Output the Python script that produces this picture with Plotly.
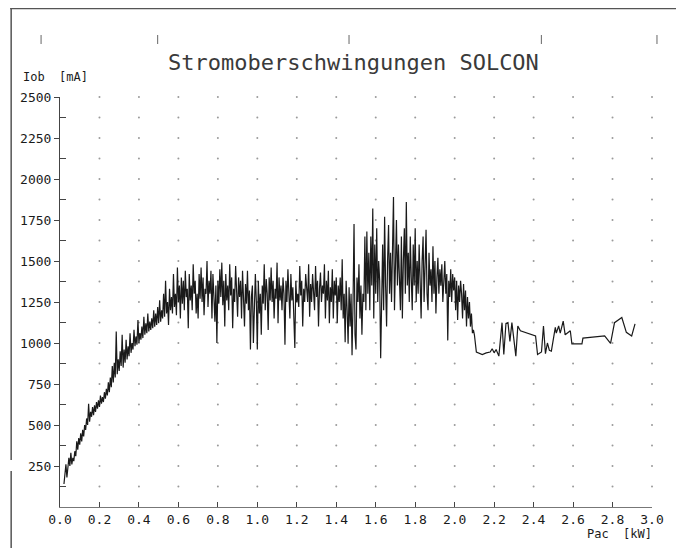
import plotly.graph_objects as go

# ---- data (Pac in kW, Iob in mA) ----
X_DENSE = [
    0.020, 0.025, 0.030, 0.035, 0.040, 0.045, 0.050, 0.055, 0.060, 0.065,
    0.070, 0.075, 0.080, 0.085, 0.090, 0.095, 0.100, 0.105, 0.110, 0.115,
    0.120, 0.125, 0.130, 0.135, 0.140, 0.145, 0.150, 0.155, 0.160, 0.165,
    0.170, 0.175, 0.180, 0.185, 0.190, 0.195, 0.200, 0.205, 0.210, 0.215,
    0.220, 0.225, 0.230, 0.235, 0.240, 0.245, 0.250, 0.255, 0.260, 0.265,
    0.270, 0.275, 0.280, 0.285, 0.290, 0.295, 0.300, 0.305, 0.310, 0.315,
    0.320, 0.325, 0.330, 0.335, 0.340, 0.345, 0.350, 0.355, 0.360, 0.365,
    0.370, 0.375, 0.380, 0.385, 0.390, 0.395, 0.400, 0.405, 0.410, 0.415,
    0.420, 0.425, 0.430, 0.435, 0.440, 0.445, 0.450, 0.455, 0.460, 0.465,
    0.470, 0.475, 0.480, 0.485, 0.490, 0.495, 0.500, 0.505, 0.510, 0.515,
    0.520, 0.525, 0.530, 0.535, 0.540, 0.545, 0.550, 0.555, 0.560, 0.565,
    0.570, 0.575, 0.580, 0.585, 0.590, 0.595, 0.600, 0.605, 0.610, 0.615,
    0.620, 0.625, 0.630, 0.635, 0.640, 0.645, 0.650, 0.655, 0.660, 0.665,
    0.670, 0.675, 0.680, 0.685, 0.690, 0.695, 0.700, 0.705, 0.710, 0.715,
    0.720, 0.725, 0.730, 0.735, 0.740, 0.745, 0.750, 0.755, 0.760, 0.765,
    0.770, 0.775, 0.780, 0.785, 0.790, 0.795, 0.800, 0.805, 0.810, 0.815,
    0.820, 0.825, 0.830, 0.835, 0.840, 0.845, 0.850, 0.855, 0.860, 0.865,
    0.870, 0.875, 0.880, 0.885, 0.890, 0.895, 0.900, 0.905, 0.910, 0.915,
    0.920, 0.925, 0.930, 0.935, 0.940, 0.945, 0.950, 0.955, 0.960, 0.965,
    0.970, 0.975, 0.980, 0.985, 0.990, 0.995, 1.000, 1.005, 1.010, 1.015,
    1.020, 1.025, 1.030, 1.035, 1.040, 1.045, 1.050, 1.055, 1.060, 1.065,
    1.070, 1.075, 1.080, 1.085, 1.090, 1.095, 1.100, 1.105, 1.110, 1.115,
    1.120, 1.125, 1.130, 1.135, 1.140, 1.145, 1.150, 1.155, 1.160, 1.165,
    1.170, 1.175, 1.180, 1.185, 1.190, 1.195, 1.200, 1.205, 1.210, 1.215,
    1.220, 1.225, 1.230, 1.235, 1.240, 1.245, 1.250, 1.255, 1.260, 1.265,
    1.270, 1.275, 1.280, 1.285, 1.290, 1.295, 1.300, 1.305, 1.310, 1.315,
    1.320, 1.325, 1.330, 1.335, 1.340, 1.345, 1.350, 1.355, 1.360, 1.365,
    1.370, 1.375, 1.380, 1.385, 1.390, 1.395, 1.400, 1.405, 1.410, 1.415,
    1.420, 1.425, 1.430, 1.435, 1.440, 1.445, 1.450, 1.455, 1.460, 1.465,
    1.470, 1.475, 1.480, 1.485, 1.490, 1.495, 1.500, 1.505, 1.510, 1.515,
    1.520, 1.525, 1.530, 1.535, 1.540, 1.545, 1.550, 1.555, 1.560, 1.565,
    1.570, 1.575, 1.580, 1.585, 1.590, 1.595, 1.600, 1.605, 1.610, 1.615,
    1.620, 1.625, 1.630, 1.635, 1.640, 1.645, 1.650, 1.655, 1.660, 1.665,
    1.670, 1.675, 1.680, 1.685, 1.690, 1.695, 1.700, 1.705, 1.710, 1.715,
    1.720, 1.725, 1.730, 1.735, 1.740, 1.745, 1.750, 1.755, 1.760, 1.765,
    1.770, 1.775, 1.780, 1.785, 1.790, 1.795, 1.800, 1.805, 1.810, 1.815,
    1.820, 1.825, 1.830, 1.835, 1.840, 1.845, 1.850, 1.855, 1.860, 1.865,
    1.870, 1.875, 1.880, 1.885, 1.890, 1.895, 1.900, 1.905, 1.910, 1.915,
    1.920, 1.925, 1.930, 1.935, 1.940, 1.945, 1.950, 1.955, 1.960, 1.965,
    1.970, 1.975, 1.980, 1.985, 1.990, 1.995, 2.000, 2.005, 2.010, 2.015,
    2.020, 2.025, 2.030, 2.035, 2.040, 2.045, 2.050, 2.055, 2.060, 2.065,
    2.070, 2.075, 2.080, 2.085, 2.090, 2.095, 2.100,
]
Y_DENSE = [
    140, 190, 260, 180, 230, 300, 250, 330, 260, 300,
    280, 340, 310, 400, 350, 420, 380, 450, 400, 470,
    430, 500, 470, 540, 500, 630, 520, 580, 550, 610,
    560, 620, 580, 640, 600, 650, 610, 680, 630, 670,
    640, 700, 660, 720, 680, 760, 700, 790, 730, 860,
    760, 880, 790, 1070, 810, 900, 830, 950, 860, 1050,
    850, 960, 880, 1020, 900, 980, 920, 1060, 940, 1000,
    960, 1080, 980, 1040, 990, 1140, 1000, 1060, 1020, 1100,
    1030, 1160, 1050, 1120, 1060, 1180, 1070, 1130, 1080, 1150,
    1090, 1200, 1100, 1180, 1110, 1220, 1120, 1260, 1130, 1200,
    1150, 1300, 1160, 1380, 1180, 1250, 1110, 1330, 1200, 1280,
    1180, 1420, 1220, 1300, 1170, 1460, 1250, 1350, 1150, 1400,
    1240, 1380, 1200, 1440, 1280, 1330, 1090, 1420, 1260, 1350,
    1200, 1480, 1300, 1380, 1180, 1300, 1150, 1420, 1270, 1460,
    1250, 1400, 1170, 1330, 1300, 1500, 1220, 1380, 1300, 1440,
    1150, 1420, 1280, 1130, 1350, 1000, 1380, 1240, 1450, 1280,
    1490, 1230, 1380, 1100, 1420, 1260, 1350, 1200, 1480, 1290,
    1400, 1090, 1330, 1250, 1470, 1300, 1160, 1400, 1280, 1380,
    1150, 1440, 1300, 1100, 1360, 1240, 1440, 1200, 1320, 960,
    1280, 1350, 1000, 1300, 1420, 1250, 960, 1380, 1180, 1300,
    1050, 1350, 1240, 1480, 1200, 1390, 1300, 1080, 1400, 1260,
    1460, 1250, 1380, 1150, 1330, 1270, 1490, 1120, 1400, 1260,
    1350, 1200, 1400, 1300, 990, 1380, 1250, 1450, 1300, 1150,
    1420, 1260, 1340, 1150, 970, 1380, 1250, 1300, 1220, 1470,
    1290, 1380, 1100, 1330, 1250, 1420, 1300, 1250, 1480, 1160,
    1360, 1250, 1420, 1300, 1200, 1470, 1280, 1380, 1100, 1330,
    1430, 1250, 1350, 1300, 1480, 1150, 1380, 1260, 1440, 1120,
    1340, 1250, 1450, 1150, 1380, 1290, 1400, 1120, 1350, 1250,
    1400, 1200, 1510, 1150, 1300, 1005, 1380, 1200, 995, 1340,
    1100, 1300, 925, 1250, 1726, 1050, 960, 1400, 1250, 1480,
    1150, 1350, 1050, 1300, 1250, 1650, 1200, 1680, 1300, 1550,
    1200, 1650, 1350, 1820, 1150, 1600, 1300, 1700, 1250, 1500,
    1380, 907, 1450, 1600, 1200, 1770, 1350, 1100, 1500, 1720,
    1300, 1550, 1250, 1650, 1890, 1200, 1500, 1750, 1350, 1600,
    1400, 1200, 1650, 1150, 1500, 1700, 1300, 1860, 1350, 1550,
    1250, 1650, 1400, 1200, 1600, 1350, 1700, 1250, 1500, 1300,
    1600, 1350, 1150, 1500, 1650, 1250, 1450, 1690, 1300, 1200,
    1550, 1350, 1450, 1250, 1590, 1300, 1500, 1180, 1400, 1520,
    1300, 1450, 1350, 1480, 1250, 1400, 1500, 1300, 1420, 1016,
    1380, 1280, 1450, 1250, 1420, 1320, 1400, 1200, 1380, 1140,
    1350, 1250, 1380, 1300, 1150, 1360, 1200, 1320, 1100, 1280,
    1150, 1250, 1100, 1180, 1060, 1080, 1050,
]
X_TAIL = [2.11, 2.14, 2.16, 2.18, 2.19, 2.20, 2.21, 2.224, 2.24, 2.249,
          2.26, 2.27, 2.28, 2.29, 2.31, 2.32, 2.333, 2.41, 2.42, 2.44,
          2.45, 2.46, 2.47, 2.48, 2.49, 2.51, 2.515, 2.527, 2.535, 2.55,
          2.56, 2.575, 2.586, 2.594, 2.645, 2.65, 2.76, 2.79, 2.81, 2.847,
          2.87, 2.897, 2.914]
Y_TAIL = [945, 930, 940, 945, 965, 940, 960, 920, 1124, 930,
          1120, 1124, 1010, 1124, 920, 1104, 1075, 1043, 930, 945,
          1104, 935, 1000, 955, 950, 1095, 1060, 1104, 1060, 1134,
          1050, 1065, 1075, 995, 995, 1030, 1043, 998, 1124, 1155,
          1065, 1043, 1117]

X_TICKS = [0.0, 0.2, 0.4, 0.6, 0.8, 1.0, 1.2, 1.4, 1.6, 1.8, 2.0, 2.2, 2.4, 2.6, 2.8, 3.0]
X_TICK_TEXT = ["0.0", "0.2", "0.4", "0.6", "0.8", "1.0", "1.2", "1.4", "1.6", "1.8",
               "2.0", "2.2", "2.4", "2.6", "2.8", "3.0"]
Y_TICKS = [250, 500, 750, 1000, 1250, 1500, 1750, 2000, 2250, 2500]
Y_TICK_TEXT = ["250", "500", "750", "1000", "1250", "1500", "1750", "2000", "2250", "2500"]
Y_MINOR = [125, 375, 625, 875, 1125, 1375, 1625, 1875, 2125, 2375]
DOT_COLS = X_TICKS[1:]
DOT_ROWS = sorted(Y_TICKS + Y_MINOR)

TITLE = "Stromoberschwingungen SOLCON"
Y_LABEL = "Iob\u00a0 [mA]"
X_LABEL = "Pac\u00a0 [kW]"

MONO = "DejaVu Sans Mono"
INK = "#1a1a1a"

# page is drawn with an 8px body margin; positions below are screen pixels
OFF = 8
W, H = 684 - OFF, 551 - OFF
PL, PR, PT, PB = 58, 652, 97, 507   # plot area on screen


def px(x):
    return (x - PL) / (PR - PL)


def py(y):
    return (PB - y) / (PB - PT)


fig = go.Figure()

dot_x = [c for r in DOT_ROWS for c in DOT_COLS]
dot_y = [r for r in DOT_ROWS for c in DOT_COLS]
fig.add_trace(go.Scatter(x=dot_x, y=dot_y, mode="markers",
                         marker=dict(size=2, color="#9a9a9a"),
                         hoverinfo="skip", showlegend=False, cliponaxis=False))

fig.add_trace(go.Scatter(x=X_DENSE + X_TAIL, y=Y_DENSE + Y_TAIL, mode="lines",
                         line=dict(color=INK, width=1.2), showlegend=False))

fig.update_xaxes(range=[0, 3.0], showgrid=False, zeroline=False,
                 showline=True, linecolor="#777", linewidth=1,
                 ticks="inside", ticklen=5, tickcolor="#444", tickwidth=1,
                 tickvals=X_TICKS, ticktext=X_TICK_TEXT,
                 tickfont=dict(family=MONO, size=13, color="#1a1a1a"))
fig.update_yaxes(range=[0, 2500], showgrid=False, zeroline=False,
                 showline=True, linecolor="#444", linewidth=1,
                 ticks="outside", ticklen=5, tickcolor="#444", tickwidth=1,
                 tickvals=Y_TICKS, ticktext=Y_TICK_TEXT,
                 minor=dict(tickvals=Y_MINOR, ticks="inside", ticklen=6,
                            tickcolor="#444", tickwidth=1),
                 tickfont=dict(family=MONO, size=13, color="#1a1a1a"))

shapes = []
frame = dict(type="line", xref="paper", yref="paper", line=dict(color="#555", width=1.5))
shapes.append(dict(frame, x0=px(8), x1=px(680), y0=py(8.5), y1=py(8.5)))
shapes.append(dict(frame, x0=px(679.5), x1=px(679.5), y0=py(8), y1=py(548)))
shapes.append(dict(frame, x0=px(9), x1=px(9), y0=py(8), y1=py(460)))
shapes.append(dict(frame, x0=px(9), x1=px(9), y0=py(471), y1=py(548)))
for mx in [39, 156, 348, 541, 657]:
    shapes.append(dict(type="line", xref="paper", yref="paper",
                       x0=px(mx), x1=px(mx), y0=py(35), y1=py(44),
                       line=dict(color="#666", width=1)))

annotations = [
    dict(text=TITLE, xref="paper", yref="paper", x=px(352), y=py(63),
         xanchor="center", yanchor="middle", showarrow=False,
         font=dict(family=MONO, size=22, color="#3a3a3a")),
    dict(text=Y_LABEL, xref="paper", yref="paper", x=px(19), y=py(77),
         xanchor="left", yanchor="middle", showarrow=False,
         font=dict(family=MONO, size=12, color="#1a1a1a")),
    dict(text=X_LABEL, xref="paper", yref="paper", x=px(654), y=py(534),
         xanchor="right", yanchor="middle", showarrow=False,
         font=dict(family=MONO, size=12, color="#1a1a1a")),
]

fig.update_layout(width=W, height=H,
                  margin=dict(l=PL - OFF, r=W - (PR - OFF), t=PT - OFF, b=H - (PB - OFF), pad=0),
                  paper_bgcolor="white", plot_bgcolor="white",
                  shapes=shapes, annotations=annotations, showlegend=False)

fig.write_html("out.html")
